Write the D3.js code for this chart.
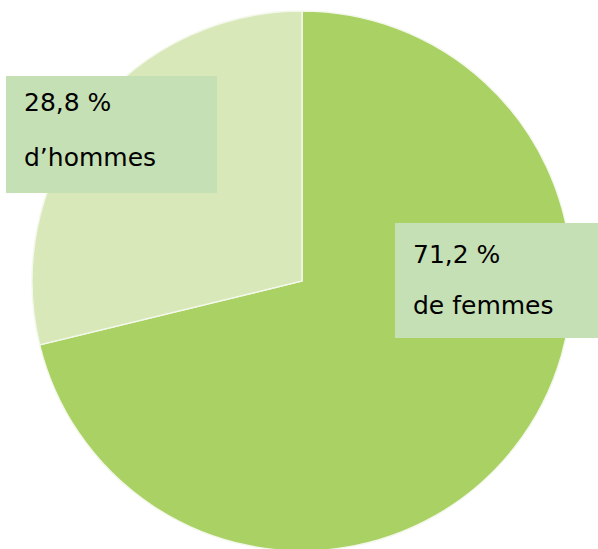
<!DOCTYPE html>
<html lang="fr">
<head>
<meta charset="UTF-8">
<title>Répartition femmes / hommes</title>
<script src="https://cdn.jsdelivr.net/npm/d3@7"></script>
<style>
  body { margin: 0; background: #fff; }
  svg { display: block; }
</style>
</head>
<body>
<script>
  // data
  var groups = ['femmes', 'hommes'];
  var shares = [71.2, 28.8];
  var pctLabels = ['71,2 %', '28,8 %'];
  var nameLabels = ['de femmes', 'd\u2019hommes'];

  var w = 598, h = 549;
  var cx = 302, cy = 281, r = 270;

  var colors = d3.scaleOrdinal()
    .domain(groups)
    .range(['#a9d163', '#d8e8b9']);

  var svg = d3.select('body').append('svg')
    .attr('width', w)
    .attr('height', h);

  var pie = d3.pie().sort(null).value(function (d, i) { return shares[i]; });
  var arc = d3.arc().innerRadius(0).outerRadius(r);

  var g = svg.append('g').attr('transform', 'translate(' + cx + ',' + cy + ')');

  g.selectAll('path')
    .data(pie(groups))
    .enter()
    .append('path')
    .attr('d', arc)
    .attr('fill', function (d) { return colors(d.data); })
    .attr('stroke', '#f4f8ec')
    .attr('stroke-width', 1.5);

  // label boxes (position of each, as in the picture)
  var boxes = [
    { x: 395, y: 223, w: 203, h: 115, ty: [263, 314] },
    { x: 6, y: 76, w: 211, h: 117, ty: [111, 166] }
  ];

  var lab = svg.selectAll('g.label')
    .data(groups)
    .enter()
    .append('g')
    .attr('class', 'label');

  lab.append('rect')
    .attr('x', function (d, i) { return boxes[i].x; })
    .attr('y', function (d, i) { return boxes[i].y; })
    .attr('width', function (d, i) { return boxes[i].w; })
    .attr('height', function (d, i) { return boxes[i].h; })
    .attr('fill', '#c5e0b4');

  lab.append('text')
    .attr('x', function (d, i) { return boxes[i].x + 18; })
    .attr('y', function (d, i) { return boxes[i].ty[0]; })
    .text(function (d, i) { return pctLabels[i]; });

  lab.append('text')
    .attr('x', function (d, i) { return boxes[i].x + 18; })
    .attr('y', function (d, i) { return boxes[i].ty[1]; })
    .text(function (d, i) { return nameLabels[i]; });

  lab.selectAll('text')
    .attr('font-family', 'DejaVu Sans, Verdana, sans-serif')
    .attr('font-size', '25px')
    .attr('fill', '#000');
</script>
</body>
</html>
